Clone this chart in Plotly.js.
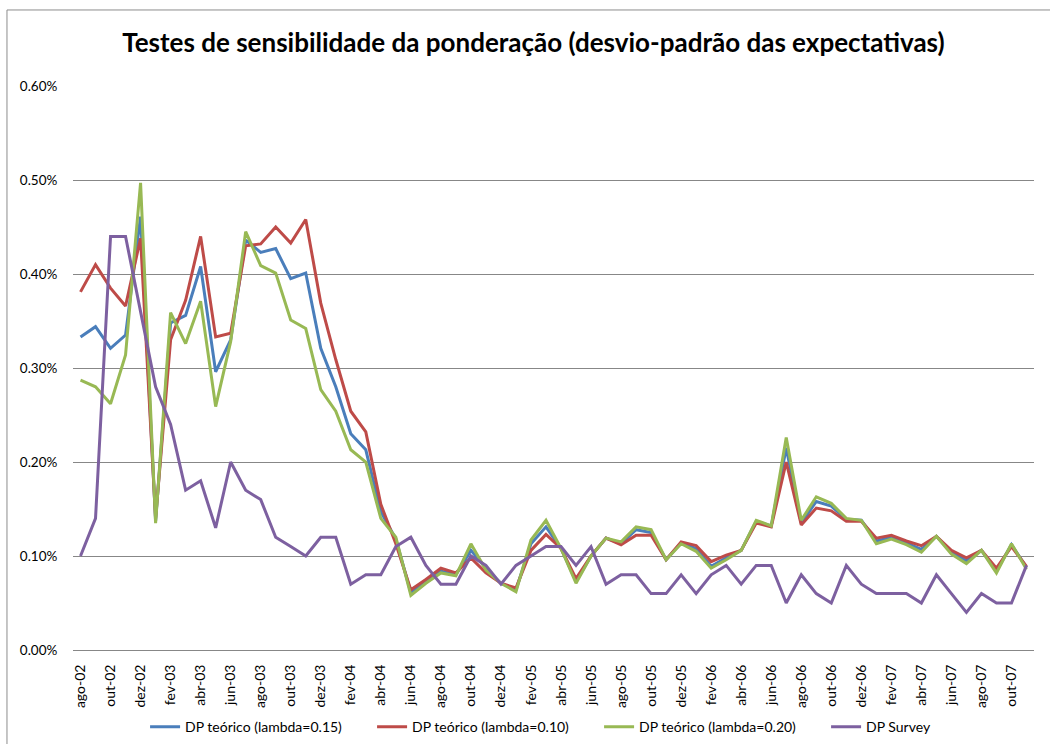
<!DOCTYPE html>
<html>
<head>
<meta charset="utf-8">
<script src="https://cdn.plot.ly/plotly-3.0.1.min.js"></script>
<style>html,body{margin:0;padding:0;background:#fff;}#chart{width:1050px;height:744px;}</style>
</head>
<body>
<div id="chart"></div>
<script>
const months = ["ago-02","set-02","out-02","nov-02","dez-02","jan-03","fev-03","mar-03","abr-03","mai-03","jun-03","jul-03",
"ago-03","set-03","out-03","nov-03","dez-03","jan-04","fev-04","mar-04","abr-04","mai-04","jun-04","jul-04",
"ago-04","set-04","out-04","nov-04","dez-04","jan-05","fev-05","mar-05","abr-05","mai-05","jun-05","jul-05",
"ago-05","set-05","out-05","nov-05","dez-05","jan-06","fev-06","mar-06","abr-06","mai-06","jun-06","jul-06",
"ago-06","set-06","out-06","nov-06","dez-06","jan-07","fev-07","mar-07","abr-07","mai-07","jun-07","jul-07",
"ago-07","set-07","out-07","nov-07"];

// values in percent
const dpLambda015 = [0.333,0.344,0.321,0.335,0.461,0.137,0.348,0.356,0.408,0.296,0.330,0.436,
0.423,0.427,0.395,0.401,0.321,0.280,0.230,0.213,0.147,0.118,0.061,0.073,
0.084,0.080,0.106,0.087,0.071,0.064,0.113,0.131,0.108,0.073,0.100,0.119,
0.113,0.128,0.125,0.096,0.114,0.108,0.089,0.098,0.106,0.137,0.132,0.215,
0.135,0.158,0.153,0.139,0.138,0.116,0.120,0.114,0.107,0.121,0.104,0.095,
0.106,0.084,0.112,0.088];

const dpLambda010 = [0.381,0.410,0.385,0.366,0.438,0.140,0.330,0.372,0.440,0.333,0.337,0.430,
0.432,0.450,0.433,0.458,0.369,0.309,0.254,0.232,0.155,0.113,0.064,0.075,
0.087,0.082,0.098,0.082,0.071,0.066,0.106,0.123,0.108,0.076,0.100,0.119,
0.112,0.122,0.122,0.096,0.115,0.111,0.094,0.101,0.106,0.135,0.131,0.200,
0.133,0.151,0.148,0.137,0.137,0.119,0.122,0.116,0.111,0.121,0.106,0.098,
0.106,0.087,0.110,0.089];

const dpLambda020 = [0.287,0.280,0.262,0.314,0.497,0.135,0.359,0.326,0.371,0.259,0.328,0.445,
0.409,0.401,0.351,0.342,0.277,0.254,0.213,0.200,0.140,0.120,0.058,0.071,
0.082,0.079,0.113,0.085,0.071,0.062,0.117,0.138,0.108,0.071,0.100,0.119,
0.115,0.131,0.128,0.096,0.113,0.105,0.087,0.096,0.106,0.138,0.132,0.226,
0.138,0.163,0.156,0.140,0.138,0.113,0.118,0.112,0.104,0.121,0.102,0.092,
0.106,0.082,0.113,0.086];

const dpSurvey = [0.10,0.14,0.44,0.44,0.36,0.28,0.24,0.17,0.18,0.13,0.20,0.17,
0.16,0.12,0.11,0.10,0.12,0.12,0.07,0.08,0.08,0.11,0.12,0.09,
0.07,0.07,0.10,0.09,0.07,0.09,0.10,0.11,0.11,0.09,0.11,0.07,
0.08,0.08,0.06,0.06,0.08,0.06,0.08,0.09,0.07,0.09,0.09,0.05,
0.08,0.06,0.05,0.09,0.07,0.06,0.06,0.06,0.05,0.08,0.06,0.04,
0.06,0.05,0.05,0.09];

const seriesNames = ["DP teórico (lambda=0.15)","DP teórico (lambda=0.10)","DP teórico (lambda=0.20)","DP Survey"];
const yTicks = [0,0.1,0.2,0.3,0.4,0.5,0.6];
const yTickText = yTicks.map(v => v.toFixed(2) + '%');
const tickMonths = months.filter((m,i)=> i % 2 === 0);

const colors = ["#4A7EBB","#BE4B48","#98B954","#7D60A0"];
const allSeries = [dpLambda015, dpLambda010, dpLambda020, dpSurvey];

const traces = allSeries.map((vals,i)=>({
  type:'scatter', mode:'lines', x: months, y: vals, name: seriesNames[i],
  line:{color:colors[i], width:3}
}));

const font = "Lato, 'Open Sans', sans-serif";
const layout = {
  width:1050, height:744,
  margin:{l:73, r:16, t:86, b:94, autoexpand:false},
  paper_bgcolor:'#fff', plot_bgcolor:'#fff',
  font:{family:font, size:13, color:'#000'},
  title:{text:'<b>Testes de sensibilidade da ponderação (desvio-padrão das expectativas)</b>',
    font:{family:font, size:26, color:'#000'}, x:0.508, xanchor:'center', y:0.943, yanchor:'middle'},
  showlegend:true,
  legend:{orientation:'h', x:0.075, xanchor:'left', y:-0.137, yanchor:'middle',
    font:{family:font, size:14, color:'#000'}, entrywidth:182, entrywidthmode:'pixels', traceorder:'normal'},
  xaxis:{type:'category', range:[-0.5, months.length-0.5], tickmode:'array', tickvals:tickMonths, ticktext:tickMonths,
    tickangle:-90, showgrid:false, zeroline:false, showline:false, ticks:'outside', ticklen:8, tickcolor:'rgba(0,0,0,0)',
    tickfont:{family:font, size:14, color:'#000'}, automargin:false, fixedrange:true},
  yaxis:{range:[0,0.6], tickmode:'array', tickvals:yTicks, ticktext:yTickText,
    showgrid:true, gridcolor:'#878787', gridwidth:1, zeroline:true, zerolinecolor:'#878787', zerolinewidth:1,
    showline:false, ticks:'outside', ticklen:12, tickcolor:'rgba(0,0,0,0)',
    tickfont:{family:font, size:13.5, color:'#000'}, automargin:false, fixedrange:true},
  shapes:[{type:'rect', xref:'paper', yref:'paper', x0:-0.0687, x1:1.05, y0:-0.3, y1:1.1348,
    line:{color:'#8c8c8c', width:1}, fillcolor:'rgba(0,0,0,0)'}]
};

Plotly.newPlot('chart', traces, layout, {displayModeBar:false, staticPlot:true});
</script>
</body>
</html>
